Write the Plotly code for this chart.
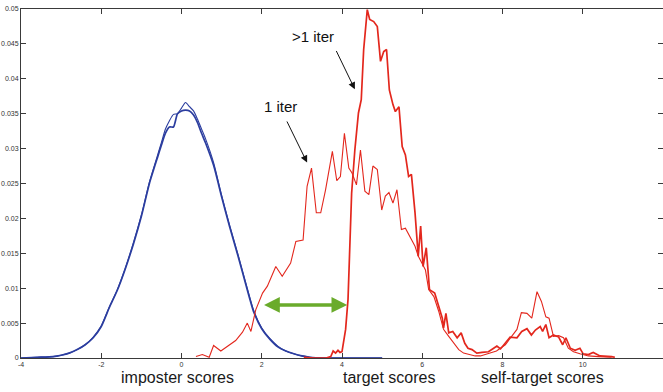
import plotly.graph_objects as go

# Score grid and densities for the imposter distribution (two runs)
imp_x = [-4.0, -3.6, -3.2, -3.0, -2.8, -2.6, -2.4, -2.2, -2.0, -1.8, -1.6, -1.4, -1.2,
         -1.0, -0.8, -0.6, -0.5, -0.4, -0.3, -0.2, -0.1, 0.0, 0.1, 0.2, 0.3, 0.4, 0.5,
         0.6, 0.8, 1.0, 1.2, 1.4, 1.6, 1.8, 2.0, 2.2, 2.4, 2.6, 2.8, 3.0, 3.2, 3.6,
         4.0, 4.5, 5.0]
imp_iter1 = [0.0000, 0.0001, 0.0002, 0.0004, 0.0007, 0.0012, 0.0019, 0.0030, 0.0046,
             0.0073, 0.0098, 0.0129, 0.0165, 0.0205, 0.0252, 0.0290, 0.0309, 0.0328,
             0.0340, 0.0349, 0.0350, 0.0358, 0.0366, 0.0360, 0.0354, 0.0342, 0.0328,
             0.0314, 0.0280, 0.0233, 0.0190, 0.0150, 0.0108, 0.0068, 0.0043, 0.0028,
             0.0017, 0.0010, 0.0006, 0.0003, 0.0001, 0.0000, 0.0000, 0.0000, 0.0000]
imp_iterN = [0.0000, 0.0001, 0.0002, 0.0004, 0.0007, 0.0012, 0.0019, 0.0029, 0.0045,
             0.0072, 0.0097, 0.0128, 0.0163, 0.0203, 0.0250, 0.0287, 0.0305, 0.0322,
             0.0331, 0.0331, 0.0350, 0.0354, 0.0355, 0.0354, 0.0348, 0.0337, 0.0322,
             0.0308, 0.0276, 0.0231, 0.0188, 0.0148, 0.0106, 0.0066, 0.0042, 0.0027,
             0.0016, 0.0010, 0.0006, 0.0003, 0.0001, 0.0000, 0.0000, 0.0000, 0.0000]

# Target / self-target scores after one iteration
tgt1_x = [0.36, 0.52, 0.69, 0.80, 0.98, 1.19, 1.35, 1.52, 1.64, 1.73, 1.85, 2.02, 2.14,
          2.35, 2.51, 2.72, 2.85, 3.03, 3.13, 3.24, 3.36, 3.47, 3.59, 3.76, 3.87, 3.96,
          4.06, 4.17, 4.25, 4.36, 4.46, 4.57, 4.67, 4.77, 4.88, 4.99, 5.08, 5.17, 5.27,
          5.37, 5.48, 5.58, 5.71, 5.82, 5.90, 6.00, 6.08, 6.16, 6.29, 6.41, 6.53, 6.66,
          6.78, 6.91, 7.03, 7.16, 7.32, 7.45, 7.65, 7.85, 8.07, 8.23, 8.36, 8.47, 8.61,
          8.73, 8.86, 8.97, 9.08, 9.16, 9.27, 9.40, 9.52, 9.64, 9.77, 9.93, 10.14,
          10.39, 10.72]
tgt1_y = [0.0002, 0.0005, 0.0001, 0.0018, 0.0010, 0.0018, 0.0025, 0.0037, 0.0050,
          0.0038, 0.0069, 0.0093, 0.0103, 0.0131, 0.0117, 0.0136, 0.0167, 0.0169,
          0.0246, 0.0272, 0.0208, 0.0208, 0.0241, 0.0296, 0.0254, 0.0260, 0.0322,
          0.0272, 0.0265, 0.0248, 0.0298, 0.0239, 0.0234, 0.0275, 0.0270, 0.0212,
          0.0232, 0.0237, 0.0222, 0.0241, 0.0184, 0.0186, 0.0172, 0.0160, 0.0146,
          0.0136, 0.0126, 0.0098, 0.0088, 0.0067, 0.0041, 0.0031, 0.0021, 0.0012,
          0.0007, 0.0005, 0.0003, 0.0003, 0.0006, 0.0010, 0.0019, 0.0031, 0.0041,
          0.0065, 0.0064, 0.0057, 0.0095, 0.0081, 0.0059, 0.0057, 0.0031, 0.0032,
          0.0029, 0.0014, 0.0009, 0.0006, 0.0003, 0.0002, 0.0001]

# Target / self-target scores after more than one iteration
tgtN_x = [3.05, 3.30, 3.60, 3.72, 3.78, 3.84, 3.90, 3.95, 4.00, 4.09, 4.15, 4.20, 4.24,
          4.32, 4.41, 4.48, 4.54, 4.63, 4.69, 4.79, 4.88, 4.96, 5.04, 5.11, 5.18, 5.27,
          5.33, 5.42, 5.50, 5.58, 5.66, 5.73, 5.82, 5.90, 5.96, 6.02, 6.10, 6.18, 6.31,
          6.41, 6.50, 6.53, 6.59, 6.66, 6.76, 6.87, 6.97, 7.06, 7.14, 7.24, 7.36, 7.49,
          7.65, 7.78, 7.86, 7.95, 8.07, 8.19, 8.36, 8.48, 8.61, 8.72, 8.82, 8.94, 9.00,
          9.08, 9.16, 9.27, 9.40, 9.50, 9.58, 9.69, 9.81, 9.93, 10.01, 10.14, 10.26,
          10.43, 10.72, 10.80]
tgtN_y = [0.0001, 0.0000, 0.0000, 0.0002, 0.0010, 0.0007, 0.0011, 0.0008, 0.0009,
          0.0041, 0.0084, 0.0169, 0.0236, 0.0298, 0.0351, 0.0370, 0.0442, 0.0499,
          0.0485, 0.0482, 0.0475, 0.0425, 0.0439, 0.0442, 0.0384, 0.0363, 0.0353,
          0.0360, 0.0303, 0.0291, 0.0260, 0.0263, 0.0208, 0.0146, 0.0189, 0.0131,
          0.0158, 0.0098, 0.0093, 0.0074, 0.0057, 0.0043, 0.0064, 0.0036, 0.0038,
          0.0029, 0.0036, 0.0021, 0.0014, 0.0012, 0.0007, 0.0008, 0.0009, 0.0014,
          0.0017, 0.0013, 0.0021, 0.0030, 0.0029, 0.0038, 0.0042, 0.0033, 0.0040,
          0.0045, 0.0038, 0.0048, 0.0029, 0.0033, 0.0030, 0.0019, 0.0029, 0.0014,
          0.0011, 0.0014, 0.0006, 0.0005, 0.0008, 0.0003, 0.0002, 0.0001]

x_ticks = [-4, -2, 0, 2, 4, 6, 8, 10, 12]
x_tick_labels = ["-4", "-2", "0", "2", "4", "6", "8", "10", "12"]
y_ticks = [0, 0.005, 0.01, 0.015, 0.02, 0.025, 0.03, 0.035, 0.04, 0.045, 0.05]
y_tick_labels = ["0", "0.005", "0.01", "0.015", "0.02", "0.025", "0.03", "0.035",
                 "0.04", "0.045", "0.05"]

# Group captions under the axis: (text, x-position)
captions = [("imposter scores", -0.1), ("target scores", 5.17), ("self-target scores", 9.0)]

BLUE = "#2b3d9f"
RED = "#e3271d"
GREEN = "#6aab2b"
AXIS = "#3a3a3a"
FONT = "Liberation Sans, Arial, sans-serif"

fig = go.Figure()
fig.add_trace(go.Scatter(x=imp_x, y=imp_iter1, mode="lines",
                         line=dict(color=BLUE, width=1.1, shape="spline", smoothing=0.6),
                         showlegend=False))
fig.add_trace(go.Scatter(x=imp_x, y=imp_iterN, mode="lines",
                         line=dict(color=BLUE, width=1.7, shape="spline", smoothing=0.6),
                         showlegend=False))
fig.add_trace(go.Scatter(x=tgt1_x, y=tgt1_y, mode="lines",
                         line=dict(color=RED, width=1.1), showlegend=False))
fig.add_trace(go.Scatter(x=tgtN_x, y=tgtN_y, mode="lines",
                         line=dict(color=RED, width=1.7), showlegend=False))

annotations = []
# iteration labels with pointer arrows
annotations.append(dict(x=3.28, y=0.0460, xref="x", yref="y", text=">1 iter",
                        showarrow=False, font=dict(family=FONT, size=15, color="#111")))
annotations.append(dict(x=4.32, y=0.0385, ax=3.84, ay=0.0442, xref="x", yref="y",
                        axref="x", ayref="y", text="", showarrow=True, arrowhead=2,
                        arrowsize=1.4, arrowwidth=1, arrowcolor="#111", standoff=0,
                        startstandoff=0))
annotations.append(dict(x=2.47, y=0.0360, xref="x", yref="y", text="1 iter",
                        showarrow=False, font=dict(family=FONT, size=15, color="#111")))
annotations.append(dict(x=3.13, y=0.0280, ax=2.61, ay=0.0341, xref="x", yref="y",
                        axref="x", ayref="y", text="", showarrow=True, arrowhead=2,
                        arrowsize=1.4, arrowwidth=1, arrowcolor="#111", standoff=0,
                        startstandoff=0))
# gap between imposter and target scores
annotations.append(dict(x=4.13, y=0.0076, ax=2.02, ay=0.0076, xref="x", yref="y",
                        axref="x", ayref="y", text="", showarrow=True, arrowhead=2,
                        arrowside="end+start", arrowsize=0.9, arrowwidth=3.5,
                        arrowcolor=GREEN, standoff=0, startstandoff=0))
for text, xpos in captions:
    annotations.append(dict(x=xpos, y=0, xref="x", yref="paper", yanchor="top",
                            yshift=-9, text=text, showarrow=False,
                            font=dict(family=FONT, size=16, color="#1a1a1a")))

fig.update_layout(
    width=663, height=392,
    margin=dict(l=21, r=0, t=9, b=34),
    paper_bgcolor="white", plot_bgcolor="white",
    font=dict(family=FONT, size=7, color="#333"),
    annotations=annotations,
)
fig.update_xaxes(range=[-4, 12], tickvals=x_ticks, ticktext=x_tick_labels,
                 ticks="inside", ticklen=5, tickwidth=1, tickcolor=AXIS,
                 showline=True, linecolor=AXIS, linewidth=1, mirror="ticks",
                 showgrid=False, zeroline=False, tickfont=dict(size=7, color="#333"))
fig.update_yaxes(range=[0, 0.05], tickvals=y_ticks, ticktext=y_tick_labels,
                 ticks="inside", ticklen=5, tickwidth=1, tickcolor=AXIS,
                 showline=True, linecolor=AXIS, linewidth=1, mirror="ticks",
                 showgrid=False, zeroline=False, tickfont=dict(size=7, color="#333"))

fig.write_html("out.html")
